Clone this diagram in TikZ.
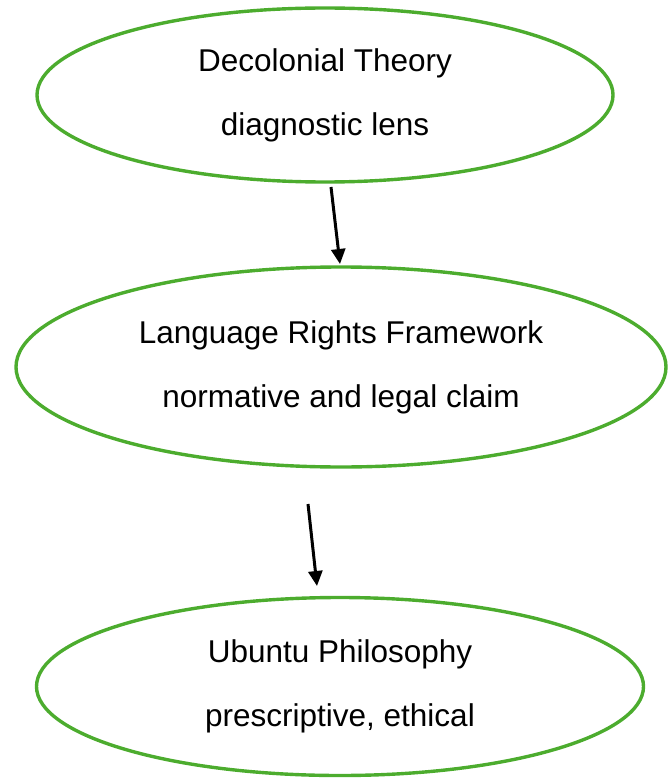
\documentclass[tikz,border=0pt]{standalone}
\usepackage{fontspec}
\setmainfont{Liberation Sans}
\usetikzlibrary{shapes.geometric, arrows.meta}
\definecolor{ovalgreen}{RGB}{76, 172, 46}

\begin{document}
\begin{tikzpicture}[x = 1pt, y = -1pt,
        oval/.style = {ellipse, draw = ovalgreen, line width = 3.4pt, inner sep = 0pt,
            align = center, font = \fontsize{31.5}{64}\selectfont},
        flow/.style = {line width = 3pt, -{Triangle[length = 15pt, width = 14pt]}}]
            \useasboundingbox (0, 0) rectangle (668, 778);

            \node[oval, minimum width = 576pt, minimum height = 174pt] (DT) at (325, 95){Decolonial Theory\\diagnostic lens};
            \node[oval, minimum width = 650pt, minimum height = 200pt] (LR) at (341, 367){Language Rights Framework\\normative and legal claim};
            \node[oval, minimum width = 607pt, minimum height = 178pt] (UP) at (340, 686.5){Ubuntu Philosophy\\prescriptive, ethical};

            \coordinate (DTout) at (331, 187);
            \coordinate (LRin) at (340, 264);
            \coordinate (LRout) at (308, 504);
            \coordinate (UPin) at (317, 586);

            \draw[flow] (DTout) -- (LRin);
            \draw[flow] (LRout) -- (UPin);
        \end{tikzpicture}
\end{document}
